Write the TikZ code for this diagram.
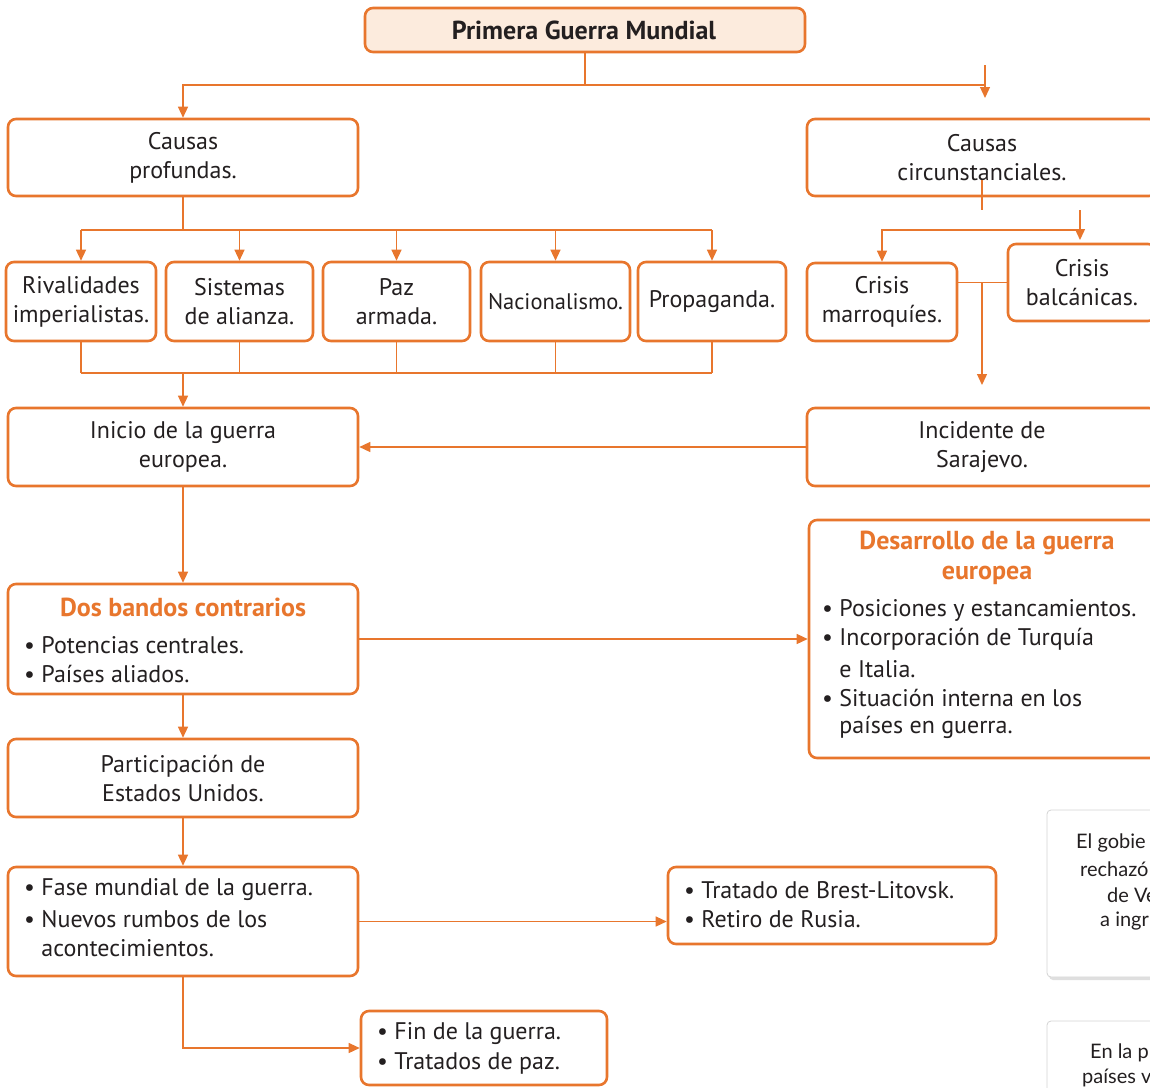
\documentclass[tikz,border=0pt]{standalone}
\usepackage{fontspec}
\setmainfont{PT Sans}
\newfontfamily\grayfont{Lato}
\usetikzlibrary{arrows.meta,shadows}
\definecolor{org}{HTML}{E8762D}
\definecolor{peach}{HTML}{FCEBDD}
\definecolor{txt}{HTML}{231F20}
\definecolor{gbord}{HTML}{D4D4D4}
\tikzset{
 box/.style={draw=org, line width=2.6pt, rounded corners=8pt, fill=white, inner sep=0pt},
 lbl/.style={font=\fontsize{24}{29}\selectfont, text=txt, align=center, inner sep=0pt},
 blt/.style={font=\fontsize{24}{29}\selectfont, text=txt, align=left, anchor=west, inner sep=0pt},
 ttl/.style={font=\fontsize{26}{30}\selectfont\bfseries, text=org, align=center, inner sep=0pt},
 gtxt/.style={font=\grayfont\fontsize{20}{26}\selectfont, text=txt, anchor=west, inner sep=0pt},
 gbox/.style={draw=gbord, line width=0.8pt, rounded corners=4pt, fill=white, drop shadow={opacity=0.25, shadow xshift=2pt, shadow yshift=-3pt}},
 conn/.style={draw=org, line width=1.3pt},
 arr/.style={conn, -{Triangle[length=11pt,width=10pt]}},
}
\begin{document}
\begin{tikzpicture}[x=1pt,y=-1pt]
\useasboundingbox (0,0) rectangle (1150,1087);
\clip (0,0) rectangle (1150,1087);

% gray side boxes
\node[gbox, minimum width=160pt, minimum height=167pt, inner sep=0pt] (g1) at (1127,893.5) {};
\node[gbox, minimum width=160pt, minimum height=120pt, inner sep=0pt] (g2) at (1127,1081) {};
\node[gtxt] (g1a) at (1076,843) {El gobie};
\node[gtxt] (g1b) at (1080,869) {rechazó};
\node[gtxt] (g1c) at (1107,895) {de Ve};
\node[gtxt] (g1d) at (1100,921) {a ingr};
\node[gtxt] (g2a) at (1090,1053) {En la p};
\node[gtxt] (g2b) at (1082,1078) {países v};

% boxes
\node[box, fill=peach, minimum width=440pt, minimum height=44pt] (top) at (585,30) {};
\node[ttl, text=txt] (topt) at (584,30) {Primera Guerra Mundial};

\node[box, minimum width=350pt, minimum height=77pt, lbl] (cp) at (183,157.5) {Causas\\profundas.};
\node[box, minimum width=350pt, minimum height=77pt, lbl] (cc) at (982,157.5) {Causas\\circunstanciales.};

\node[box, minimum width=150pt, minimum height=79pt, lbl] (r1) at (81,301.5) {Rivalidades\\imperialistas.};
\node[box, minimum width=147pt, minimum height=79pt, lbl] (r2) at (239.5,301.5) {Sistemas\\de alianza.};
\node[box, minimum width=147pt, minimum height=79pt, lbl] (r3) at (396.5,301.5) {Paz\\armada.};
\node[box, minimum width=149pt, minimum height=79pt, lbl, font=\fontsize{22.5}{29}\selectfont] (r4) at (555.5,301.5) {Nacionalismo.};
\node[box, minimum width=148pt, minimum height=79pt, lbl] (r5) at (712,301.5) {Propaganda.};

\node[box, minimum width=150pt, minimum height=78pt, lbl] (cm) at (882,302) {Crisis\\marroquíes.};
\node[box, minimum width=148pt, minimum height=77pt, lbl] (cb) at (1082,282.5) {Crisis\\balcánicas.};

\node[box, minimum width=350pt, minimum height=78pt, lbl] (ini) at (183,447) {Inicio de la guerra\\europea.};
\node[box, minimum width=350pt, minimum height=78pt, lbl] (inc) at (982,447) {Incidente de\\Sarajevo.};

\node[box, minimum width=350pt, minimum height=110pt] (dos) at (183,639) {};
\node[ttl] (dost) at (183,607) {Dos bandos contrarios};
\node[blt] (dos1) at (24,645) {• Potencias centrales.};
\node[blt] (dos2) at (24,674) {• Países aliados.};

\node[box, minimum width=352pt, minimum height=238pt] (des) at (985,639) {};
\node[ttl] (dest) at (987,558) {Desarrollo de la guerra\\europea};
\node[blt] (des1) at (822,610) {• Posiciones y estancamientos.};
\node[blt] (des2) at (822,639) {• Incorporación de Turquía};
\node[blt] (des3) at (822,669) {\phantom{• }e Italia.};
\node[blt] (des4) at (822,698) {• Situación interna en los};
\node[blt] (des5) at (822,727) {\phantom{• }países en guerra.};

\node[box, minimum width=350pt, minimum height=78pt, lbl] (par) at (183,778) {Participación de\\Estados Unidos.};

\node[box, minimum width=350pt, minimum height=109pt] (fase) at (183,921.5) {};
\node[blt] (fase1) at (24,890) {• Fase mundial de la guerra.};
\node[blt] (fase2) at (24,919) {• Nuevos rumbos de los};
\node[blt] (fase3) at (24,948) {\phantom{• }acontecimientos.};

\node[box, minimum width=328pt, minimum height=77pt] (tra) at (832,905.5) {};
\node[blt] (tra1) at (684,890) {• Tratado de Brest-Litovsk.};
\node[blt] (tra2) at (684,919) {• Retiro de Rusia.};

\node[box, minimum width=246pt, minimum height=74pt] (fin) at (484,1048) {};
\node[blt] (fin1) at (377,1034) {• Fin de la guerra.};
\node[blt] (fin2) at (377,1063) {• Tratados de paz.};

% connectors
\coordinate (j0) at (585,85);
\coordinate (jr) at (985,85);
\coordinate (ra) at (985,65);
\coordinate (rb) at (985,98);
\draw[conn] (top.south) -- (j0);
\draw[arr] (jr) -| (cp.north);
\draw[arr] (ra) -- (rb);

\coordinate (cpj) at (183,230);
\draw[conn] (cp.south) -- (cpj);
\draw[conn] (r1.north |- cpj) -- (r5.north |- cpj);
\foreach \n in {r1,r2,r3,r4,r5} {\draw[arr] (\n.north |- cpj) -- (\n.north);}

\coordinate (bj) at (183,373);
\foreach \n in {r1,r2,r3,r4,r5} {\draw[conn] (\n.south) -- (\n.south |- bj);}
\draw[conn] (r1.south |- bj) -- (r5.south |- bj);
\draw[arr] (bj) -- (ini.north);

\coordinate (ccs) at (982,180);
\coordinate (cce) at (982,210);
\coordinate (cbs) at (1080,210);
\coordinate (cbe) at (1080,240);
\coordinate (ch) at (1080,230);
\draw[conn] (ccs) -- (cce);
\draw[arr] (cbs) -- (cbe);
\draw[arr] (ch) -| (cm.north);

\coordinate (mj) at (982,282.5);
\coordinate (me) at (982,385);
\draw[conn] (cm.east |- cb.west) -- (cb.west);
\draw[arr] (mj) -- (me);

\draw[arr] (inc.west) -- (ini.east);
\draw[arr] (ini.south) -- (dos.north);
\draw[arr] (dos.east) -- (des.west);
\draw[arr] (dos.south) -- (par.north);
\draw[arr] (par.south) -- (fase.north);
\draw[arr] (fase.east) -- (fase.east -| tra.west);
\draw[arr] (fase.south) |- (fin.west);
\end{tikzpicture}
\end{document}
